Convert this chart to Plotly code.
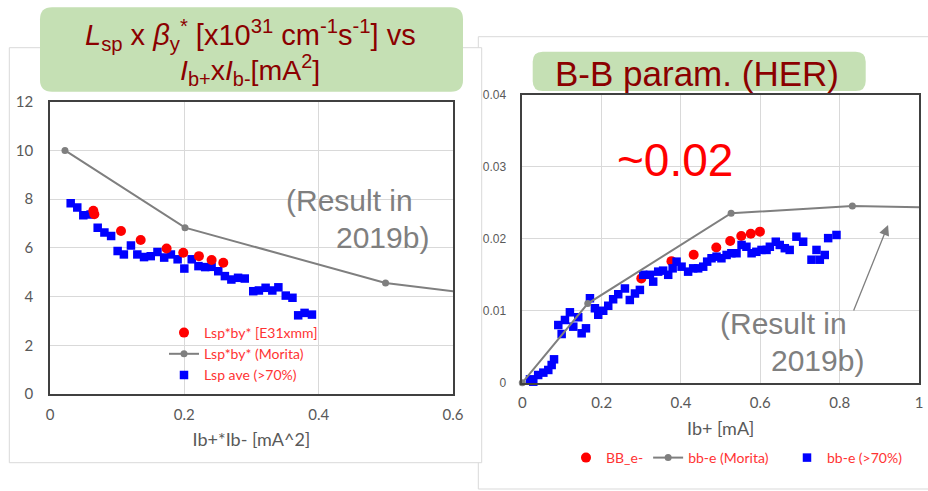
import plotly.graph_objects as go

W, H = 928, 491

# ---------------- Left chart data: Lsp x by* vs Ib+ x Ib- ----------------
left_red_x = [0.0645, 0.066, 0.1057, 0.135, 0.1736, 0.1984, 0.2217, 0.2406, 0.258]
left_red_y = [7.52, 7.38, 6.69, 6.32, 5.97, 5.80, 5.66, 5.50, 5.39]

left_morita_x = [0.0223, 0.201, 0.4996, 0.8]
left_morita_y = [10.0, 6.83, 4.56, 3.54]

left_blue_x = [0.0308, 0.0406, 0.0496, 0.0605, 0.071, 0.081, 0.091, 0.1007, 0.110, 0.1205,
               0.130, 0.140, 0.150, 0.160, 0.170, 0.180, 0.190, 0.200, 0.211, 0.221,
               0.231, 0.2406, 0.2505, 0.2604, 0.270, 0.280, 0.290, 0.3026, 0.311, 0.321,
               0.331, 0.340, 0.351, 0.361, 0.3695, 0.379, 0.390]
left_blue_y = [7.83, 7.66, 7.34, 7.37, 6.83, 6.63, 6.49, 5.87, 5.73, 6.10,
               5.73, 5.62, 5.66, 5.83, 5.60, 5.73, 5.53, 5.15, 5.53, 5.25,
               5.21, 5.22, 5.04, 4.84, 4.70, 4.77, 4.74, 4.22, 4.25, 4.36,
               4.25, 4.38, 4.04, 3.95, 3.23, 3.33, 3.26]

left_xticks = [0, 0.2, 0.4, 0.6]
left_yticks = [0, 2, 4, 6, 8, 10, 12]

# ---------------- Right chart data: B-B param (HER) vs Ib+ ----------------
right_red_x = [0.300, 0.376, 0.432, 0.489, 0.524, 0.552, 0.576, 0.599]
right_red_y = [0.0145, 0.0169, 0.0178, 0.0188, 0.0197, 0.0204, 0.0207, 0.0210]

right_morita_x = [0.0, 0.165, 0.5264, 0.832, 1.2]
right_morita_y = [0.0, 0.0110, 0.02356, 0.02457, 0.0242]

right_blue_x = [0.0194, 0.0277, 0.040, 0.053, 0.0655, 0.074, 0.080, 0.0907, 0.0992, 0.1075,
                0.120, 0.1285, 0.141, 0.1496, 0.1605, 0.1705, 0.183, 0.1914, 0.204, 0.2166,
                0.229, 0.2418, 0.2587, 0.271, 0.284, 0.2964, 0.3048, 0.3216, 0.330, 0.3426,
                0.355, 0.3678, 0.379, 0.3889, 0.4015, 0.418, 0.4307, 0.4433, 0.456, 0.466,
                0.477, 0.4897, 0.502, 0.515, 0.527, 0.540, 0.5527, 0.565, 0.578, 0.590,
                0.603, 0.6157, 0.624, 0.639, 0.649, 0.6617, 0.674, 0.691, 0.708, 0.729,
                0.7416, 0.750, 0.7625, 0.771, 0.792]
right_blue_y = [0.00047, 0.00014, 0.00107, 0.0014, 0.00177, 0.00246, 0.00325, 0.00802, 0.00677, 0.00872,
                0.00979, 0.00779, 0.0091, 0.00687, 0.00756, 0.01174, 0.01035, 0.00945, 0.0100, 0.0107,
                0.0116, 0.0123, 0.0131, 0.0115, 0.0124, 0.0129, 0.0150, 0.0150, 0.01405, 0.01544,
                0.01558, 0.0150, 0.0159, 0.01683, 0.01613, 0.01544, 0.0159, 0.0159, 0.01613, 0.01683,
                0.0173, 0.01752, 0.0173, 0.01776, 0.0180, 0.0180, 0.01915, 0.0189, 0.0180, 0.0182,
                0.01846, 0.01846, 0.0189, 0.0196, 0.01915, 0.0187, 0.01846, 0.0203, 0.0196, 0.0171,
                0.01846, 0.0171, 0.01776, 0.0201, 0.02054]

right_xticks = [0, 0.2, 0.4, 0.6, 0.8, 1]
right_yticks = [0, 0.01, 0.02, 0.03, 0.04]

# ---------------- Helpers ----------------
def px(x):
    return x / W

def py(y):
    return 1 - y / H

CAL = "Lato, 'Open Sans', sans-serif"
ARI = "'Liberation Sans', Arial, sans-serif"
RED = "#ff0000"
BLUE = "#0000ff"
GRAY = "#7f7f7f"
TITLE_RED = "#8b0000"
TICK = "#595959"
LEG_RED = "#ff3333"

fig = go.Figure()

# Left traces
fig.add_trace(go.Scatter(x=left_blue_x, y=left_blue_y, mode="markers", name="Lsp ave (>70%)",
                         marker=dict(symbol="square", size=8.5, color=BLUE),
                         xaxis="x", yaxis="y", legend="legend", legendrank=3))
fig.add_trace(go.Scatter(x=left_morita_x, y=left_morita_y, mode="lines+markers", name="Lsp*by* (Morita)",
                         line=dict(color=GRAY, width=2), marker=dict(size=7, color=GRAY),
                         xaxis="x", yaxis="y", legend="legend", legendrank=2))
fig.add_trace(go.Scatter(x=left_red_x, y=left_red_y, mode="markers", name="Lsp*by* [E31xmm]",
                         marker=dict(symbol="circle", size=10, color=RED),
                         xaxis="x", yaxis="y", legend="legend", legendrank=1))

# Right traces
fig.add_trace(go.Scatter(x=right_red_x, y=right_red_y, mode="markers", name="BB_e-",
                         marker=dict(symbol="circle", size=10, color=RED), cliponaxis=False,
                         xaxis="x2", yaxis="y2", legend="legend2", legendrank=1))
fig.add_trace(go.Scatter(x=right_blue_x, y=right_blue_y, mode="markers", name="bb-e (>70%)",
                         marker=dict(symbol="square", size=8.5, color=BLUE), cliponaxis=False,
                         xaxis="x2", yaxis="y2", legend="legend3", legendrank=3))
fig.add_trace(go.Scatter(x=right_morita_x, y=right_morita_y, mode="lines+markers", name="bb-e (Morita)",
                         line=dict(color=GRAY, width=2), marker=dict(size=7, color=GRAY), cliponaxis=False,
                         xaxis="x2", yaxis="y2", legend="legend2", legendrank=2))

# ---------------- Axes ----------------
axis_common = dict(showgrid=True, gridcolor="#d9d9d9", gridwidth=1, zeroline=False,
                   showline=True, linecolor="#404040", linewidth=1.5, mirror=True,
                   tickfont=dict(family=CAL, size=15, color=TICK), ticks="", automargin=False)

fig.update_layout(
    xaxis=dict(domain=[px(50), px(453)], range=[0, 0.6], tickvals=left_xticks, anchor="y",
               title=dict(text="Ib+*Ib- [mA^2]", font=dict(family=CAL, size=18, color=TICK), standoff=12),
               ticklabelstandoff=6, **axis_common),
    yaxis=dict(domain=[py(394), py(101.7)], range=[0, 12], tickvals=left_yticks, anchor="x",
               ticklabelstandoff=12, **axis_common),
    xaxis2=dict(domain=[px(522.3), px(919)], range=[0, 1], tickvals=right_xticks, anchor="y2",
                title=dict(text="Ib+ [mA]", font=dict(family=CAL, size=18, color=TICK), standoff=12),
                ticklabelstandoff=6, **axis_common),
    yaxis2=dict(domain=[py(382.7), py(95)], range=[0, 0.04], tickvals=right_yticks, anchor="x2",
                ticklabelstandoff=12,
                **{**axis_common, "tickfont": dict(family=ARI, size=12, color=TICK)}),
)

# ---------------- Legends ----------------
fig.update_layout(
    legend=dict(x=px(164), y=py(317), xanchor="left", yanchor="top", orientation="v",
                bgcolor="rgba(0,0,0,0)", font=dict(family=CAL, size=14, color=LEG_RED),
                itemwidth=30, tracegroupgap=0),
    legend2=dict(x=px(566), y=py(442), xanchor="left", yanchor="top", orientation="h",
                 bgcolor="rgba(0,0,0,0)", font=dict(family=CAL, size=14, color=LEG_RED),
                 itemwidth=30),
    legend3=dict(x=px(787), y=py(442), xanchor="left", yanchor="top", orientation="h",
                 bgcolor="rgba(0,0,0,0)", font=dict(family=CAL, size=14, color=LEG_RED),
                 itemwidth=30),
)

# ---------------- Panel frames and title boxes ----------------
def rounded_rect(x0, y0, x1, y1, r):
    X0, X1 = px(x0), px(x1)
    Y0, Y1 = py(y0), py(y1)
    rx, ry = r / W, r / H
    return (f"M {X0+rx},{Y0} L {X1-rx},{Y0} Q {X1},{Y0} {X1},{Y0-ry} "
            f"L {X1},{Y1+ry} Q {X1},{Y1} {X1-rx},{Y1} L {X0+rx},{Y1} "
            f"Q {X0},{Y1} {X0},{Y1+ry} L {X0},{Y0-ry} Q {X0},{Y0} {X0+rx},{Y0} Z")

shapes = [
    dict(type="rect", xref="paper", yref="paper", x0=px(478.3), x1=px(940), y0=py(489), y1=py(36.7),
         line=dict(color="#d9d9d9", width=1), fillcolor="white", layer="below"),
    dict(type="rect", xref="paper", yref="paper", x0=px(9.3), x1=px(481.7), y0=py(462.7), y1=py(47.7),
         line=dict(color="#d9d9d9", width=1), fillcolor="white", layer="below"),
    dict(type="path", xref="paper", yref="paper", path=rounded_rect(40, 7.3, 463, 91.7, 12),
         line=dict(width=0), fillcolor="#c5e0b4", layer="above"),
    dict(type="path", xref="paper", yref="paper", path=rounded_rect(532.7, 51.7, 865.7, 91, 10),
         line=dict(width=0), fillcolor="#c5e0b4", layer="above"),
]
fig.update_layout(shapes=shapes)

# ---------------- Annotations ----------------
ann = []
ann.append(dict(xref="paper", yref="paper", x=px(250), y=py(35), xanchor="center", yanchor="middle",
                text="<i>L</i><sub>sp</sub> x <i>β</i><sub>y</sub><sup>*</sup> [x10<sup>31</sup> cm<sup>-1</sup>s<sup>-1</sup>] vs",
                showarrow=False, font=dict(family=ARI, size=29, color=TITLE_RED)))
ann.append(dict(xref="paper", yref="paper", x=px(250), y=py(70), xanchor="center", yanchor="middle",
                text="<i>I</i><sub>b+</sub>x<i>I</i><sub>b-</sub>[mA<sup>2</sup>]",
                showarrow=False, font=dict(family=ARI, size=28.5, color=TITLE_RED)))
ann.append(dict(xref="paper", yref="paper", x=px(697), y=py(73), xanchor="center", yanchor="middle",
                text="B-B param. (HER)", showarrow=False,
                font=dict(family=ARI, size=35, color=TITLE_RED)))
ann.append(dict(xref="paper", yref="paper", x=px(675), y=py(160), xanchor="center", yanchor="middle",
                text="~0.02", showarrow=False, font=dict(family=ARI, size=46, color=RED)))
# (Result in 2019b) - left
ann.append(dict(xref="paper", yref="paper", x=px(284), y=py(201), xanchor="left", yanchor="middle",
                text="(Result in", showarrow=False, font=dict(family=ARI, size=30, color=GRAY)))
ann.append(dict(xref="paper", yref="paper", x=px(334), y=py(237), xanchor="left", yanchor="middle",
                text="2019b)", showarrow=False, font=dict(family=ARI, size=30, color=GRAY)))
# (Result in 2019b) - right
ann.append(dict(xref="paper", yref="paper", x=px(718), y=py(323), xanchor="left", yanchor="middle",
                text="(Result in", showarrow=False, font=dict(family=ARI, size=30, color=GRAY)))
ann.append(dict(xref="paper", yref="paper", x=px(769), y=py(360), xanchor="left", yanchor="middle",
                text="2019b)", showarrow=False, font=dict(family=ARI, size=30, color=GRAY)))
# arrow
ann.append(dict(xref="x2", yref="y2", x=0.922, y=0.02193, ax=-35, ay=87, axref="pixel", ayref="pixel",
                text="", showarrow=True, arrowhead=2, arrowsize=1.6, arrowwidth=1.3, arrowcolor=GRAY))
fig.update_layout(annotations=ann)

fig.update_layout(width=W, height=H, margin=dict(l=0, r=0, t=0, b=0, pad=0, autoexpand=False),
                  paper_bgcolor="white", plot_bgcolor="rgba(0,0,0,0)")

fig.write_html("out.html")
